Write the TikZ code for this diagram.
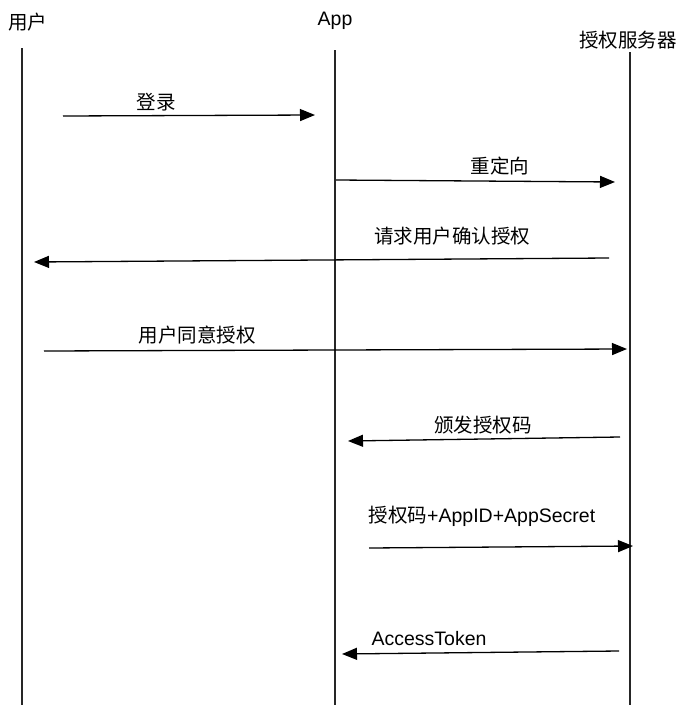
\documentclass[tikz,border=0pt]{standalone}
\usepackage{fontspec}
\setmainfont{Liberation Sans}
\newfontfamily\cjk{Noto Sans CJK SC}
\usetikzlibrary{arrows.meta}

\begin{document}
\begin{tikzpicture}[
  x=1pt, y=-1pt,
  font=\fontsize{19.5}{23}\selectfont,
  lifeline/.style={line width=1.3pt, black!85},
  msg/.style={line width=1.3pt, -{Triangle[length=15pt,width=12pt]}},
  actor/.style={inner sep=0pt},
  msglabel/.style={inner sep=0pt}
]
\useasboundingbox (0,0) rectangle (687,715);

% Actors
\node[actor] (user)   at (28,22)  {\cjk 用户};
\node[actor] (app)    at (335,21) {App};
\node[actor] (server) at (628,40) {\cjk 授权服务器};

% Lifelines
\coordinate (userTop) at (22,48);   \coordinate (userBot) at (22,705);
\coordinate (appTop) at (335,50);   \coordinate (appBot) at (335,705);
\coordinate (srvTop) at (630,52);   \coordinate (srvBot) at (630,705);
\draw[lifeline] (userTop) -- (userBot);
\draw[lifeline] (appTop) -- (appBot);
\draw[lifeline] (srvTop) -- (srvBot);

% Messages
\coordinate (loginA) at (63,116);   \coordinate (loginB) at (315,115);
\draw[msg] (loginA) -- (loginB);
\node[msglabel] (login) at (156,102) {\cjk 登录};

\coordinate (redirA) at (336,180);  \coordinate (redirB) at (615,182);
\draw[msg] (redirA) -- (redirB);
\node[msglabel] (redir) at (500,166) {\cjk 重定向};

\coordinate (askA) at (609,258);    \coordinate (askB) at (34,262);
\draw[msg] (askA) -- (askB);
\node[msglabel] (ask) at (452,236) {\cjk 请求用户确认授权};

\coordinate (agreeA) at (44,351);   \coordinate (agreeB) at (627,349);
\draw[msg] (agreeA) -- (agreeB);
\node[msglabel] (agree) at (197,335) {\cjk 用户同意授权};

\coordinate (codeA) at (620,437);   \coordinate (codeB) at (348,441);
\draw[msg] (codeA) -- (codeB);
\node[msglabel] (code) at (483,425) {\cjk 颁发授权码};

\coordinate (exchA) at (369,548);   \coordinate (exchB) at (633,546);
\draw[msg] (exchA) -- (exchB);
\node[msglabel] (exch) at (482,516) {{\cjk 授权码}+AppID+AppSecret};

\coordinate (tokenA) at (619,651);  \coordinate (tokenB) at (342,654);
\draw[msg] (tokenA) -- (tokenB);
\node[msglabel] (token) at (429,639) {AccessToken};

\end{tikzpicture}
\end{document}
